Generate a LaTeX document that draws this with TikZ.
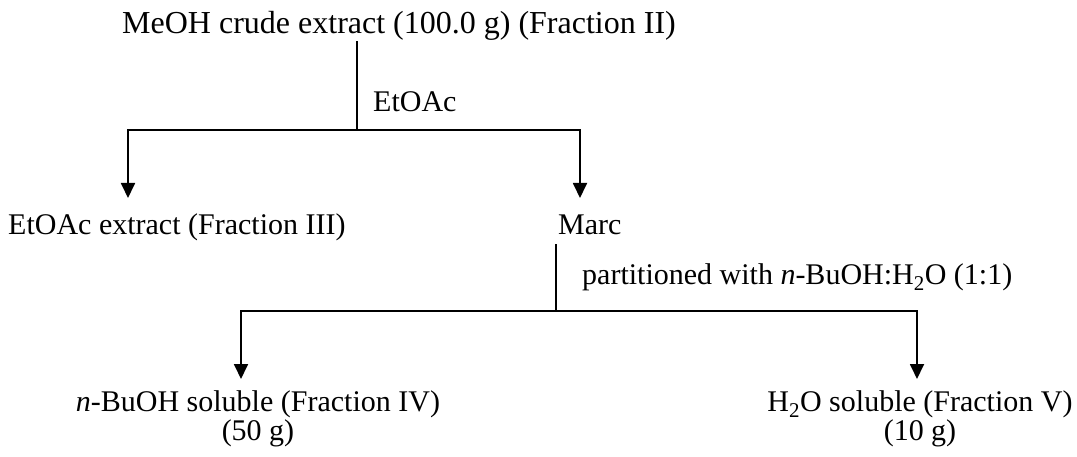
\documentclass[tikz,border=0pt]{standalone}
\usepackage{fontspec}
\setmainfont{Liberation Serif}
\usetikzlibrary{arrows.meta}
\begin{document}
\begin{tikzpicture}[x=1pt,y=-1pt,
  lbl/.style={inner sep=0pt, font=\fontsize{30}{27}\selectfont},
  conn/.style={line width=1.8pt},
  arr/.style={conn,-{Triangle[width=14pt,length=15pt]}}]
\useasboundingbox (0,0) rectangle (1077,457);
% texts
\node[lbl, anchor=base, font=\fontsize{32}{27}\selectfont] (meoh) at (399,34) {MeOH crude extract (100.0 g) (Fraction II)};
\node[lbl, anchor=base west] (solv1) at (373,112) {EtOAc};
\node[lbl, anchor=base west] (etoac) at (8,235) {EtOAc extract (Fraction III)};
\node[lbl, anchor=base west] (marc) at (558,235) {Marc};
\node[lbl, anchor=base west] (solv2) at (582,285) {partitioned with \textit{n}-BuOH:H\textsubscript{2}O (1:1)};
\node[lbl, anchor=base, align=center] (buoh) at (258,440) {\textit{n}-BuOH soluble (Fraction IV)\\(50 g)};
\node[lbl, anchor=base, align=center] (water) at (920,440) {H\textsubscript{2}O soluble (Fraction V)\\(10 g)};
% junctions and arrow tips
\coordinate (j1) at (357,130);
\coordinate (t1) at (128,198);
\coordinate (t2) at (580,198);
\coordinate (j2) at (556,311);
\coordinate (t3) at (241,379);
\coordinate (t4) at (917,379);
% connectors
\draw[conn] (meoh.south -| j1) -- (j1);
\draw[arr] (j1) -| (t1);
\draw[arr] (j1) -| (t2);
\draw[conn] ([yshift=-9pt]marc.south -| j2) -- (j2);
\draw[arr] (j2) -| (t3);
\draw[arr] (j2) -| (t4);
\end{tikzpicture}
\end{document}
